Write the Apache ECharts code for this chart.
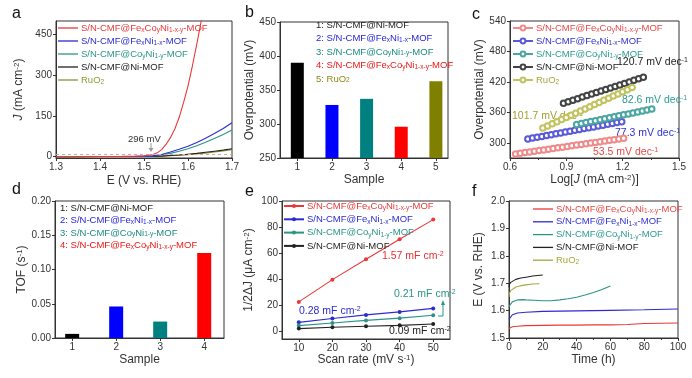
<!DOCTYPE html>
<html><head><meta charset="utf-8">
<script src="https://cdn.jsdelivr.net/npm/echarts@6/dist/echarts.min.js"></script>
<style>html,body{margin:0;padding:0;background:#fff}#c{width:692px;height:378px}</style>
</head><body><div id="c"></div>
<script>
// ---------------- DATA ----------------
// (a) LSV curves
const lsvE = [1.30,1.35,1.40,1.45,1.48,1.50,1.52,1.54,1.56,1.58,1.60,1.62,1.64,1.66,1.68,1.70];
const lsvJ_FeNi = [0.3,0.4,0.5,0.7,0.9,1.2,3,8,17,27,38,52,68,85,104,125];
const lsvJ_CoNi = [0.2,0.3,0.4,0.6,0.8,1.0,2.5,6,12,20,29,40,53,67,82,98];
const lsvJ_Ni   = [0.1,0.2,0.3,0.4,0.5,0.6,1.0,2,4,6,9,12,16,20,24,29];
const lsvJ_RuO2 = [0.1,0.2,0.3,0.4,0.5,0.6,1.0,2,3.5,5,7.5,10,13,17,21,26];
const lsvE_FeCoNi = [1.30,1.35,1.40,1.45,1.48,1.50,1.51,1.52,1.53,1.54,1.55,1.56,1.57,1.58,1.59,1.60,1.61,1.62,1.63,1.636];
const lsvJ_FeCoNi = [0.5,0.6,0.8,1.0,1.5,3,5,8,14,26,45,70,102,145,200,260,335,415,500,550];

// (b) overpotential
const bSample = [1,2,3,4,5];
const bOverpot = [390,328,337,296,363];

// (c) Tafel
const tafX_FeCoNi = [0.630,0.655,0.680,0.705,0.730,0.755,0.780,0.805,0.830,0.855,0.880,0.905,0.930,0.955,0.980,1.005,1.030,1.055,1.080,1.105,1.130,1.155,1.180,1.205];
const tafY_FeCoNi = [278.0,279.3,280.7,282.0,283.4,284.7,286.0,287.4,288.7,290.0,291.4,292.7,294.1,295.4,296.7,298.1,299.4,300.7,302.1,303.4,304.8,306.1,307.4,308.8];
const tafX_FeNi = [0.695,0.720,0.745,0.770,0.795,0.820,0.845,0.870,0.895,0.920,0.945,0.970,0.995,1.020,1.045,1.070,1.095,1.120,1.145,1.170,1.195];
const tafY_FeNi = [307.5,309.2,310.9,312.6,314.3,316.0,317.7,319.4,321.1,322.8,324.5,326.2,327.9,329.6,331.3,333.0,334.7,336.4,338.1,339.8,341.5];
const tafX_CoNi = [0.955,0.980,1.005,1.030,1.055,1.080,1.105,1.130,1.155,1.180,1.205,1.230,1.255,1.280,1.305,1.330,1.355];
const tafY_CoNi = [336.0,337.9,339.8,341.7,343.6,345.5,347.4,349.3,351.2,353.1,355.0,356.9,358.8,360.7,362.6,364.5,366.4];
const tafX_Ni = [0.885,0.910,0.935,0.960,0.985,1.010,1.035,1.060,1.085,1.110,1.135,1.160,1.185,1.210,1.235,1.260,1.285,1.310];
const tafY_Ni = [378,381,384,387,390,393,396,399,402,405,408,411,414,417,420,423,426,429];
const tafX_RuO2 = [0.775,0.800,0.825,0.850,0.875,0.900,0.925,0.950,0.975,1.000,1.025,1.050,1.075,1.100,1.125,1.150,1.175,1.200,1.225,1.250];
const tafY_RuO2 = [329.0,333.2,337.4,341.6,345.8,350.0,354.2,358.4,362.6,366.8,371.0,375.2,379.4,383.6,387.8,392.0,396.2,400.4,404.6,408.8];

// (d) TOF
const dSample = [1,2,3,4];
const dTOF = [0.006,0.046,0.024,0.124];

// (e) Cdl
const eScan = [10,20,30,40,50];
const eJ_FeCoNi = [22.5,39.6,55.2,70.6,85.7];
const eJ_FeNi = [6.8,9.8,12.5,14.8,17.5];
const eJ_CoNi = [4.3,6.3,8.3,10.0,12.3];
const eJ_Ni = [2.0,3.0,3.8,4.5,5.5];

// (f) stability
const fT_FeCoNi = [0,0.5,2,5,10,20,30,40,50,60,70,75,80,90,100];
const fE_FeCoNi = [1.535,1.538,1.541,1.543,1.545,1.546,1.547,1.547,1.548,1.548,1.549,1.551,1.553,1.554,1.555];
const fT_FeNi = [0,0.5,2,5,10,20,30,40,60,80,100];
const fE_FeNi = [1.568,1.575,1.585,1.591,1.594,1.597,1.598,1.599,1.601,1.603,1.606];
const fT_CoNi = [0,0.5,1,2,3,5,8,10,15,20,25,30,35,40,45,50,55,60];
const fE_CoNi = [1.612,1.620,1.626,1.632,1.636,1.639,1.640,1.639,1.638,1.636,1.636,1.639,1.643,1.649,1.657,1.666,1.677,1.690];
const fT_Ni = [0,0.2,1,2,4,7,10,14,17,20];
const fE_Ni = [1.685,1.695,1.703,1.708,1.714,1.719,1.722,1.726,1.728,1.730];
const fT_RuO2 = [0,0.2,1,2,4,7,10,14,18];
const fE_RuO2 = [1.650,1.662,1.673,1.680,1.686,1.691,1.694,1.697,1.698];

// tick labels
const aYTicks = [0,150,300,450];
const cYTicks = [300,360,420,480,540];
const eXTicks = [10,20,30,40,50];
const eYTicks = [0,20,40,60,80,100];

// ---------------- STYLE ----------------
const FONT = '"Liberation Sans", Arial, Helvetica, sans-serif';
const TXT = '#333';
const RICH = {
  s: {fontSize: 6.5, lineHeight: 7, verticalAlign: 'bottom', fontFamily: FONT},
  p: {fontSize: 6.5, lineHeight: 7, verticalAlign: 'top', fontFamily: FONT},
  i: {fontStyle: 'italic', fontFamily: FONT}
};
const dispName = {
  FeCoNi: 'S/N-CMF@Fe{s|x}Co{s|y}Ni{s|1-x-y}-MOF',
  FeNi: 'S/N-CMF@Fe{s|x}Ni{s|1-x}-MOF',
  CoNi: 'S/N-CMF@Co{s|y}Ni{s|1-y}-MOF',
  Ni: 'S/N-CMF@Ni-MOF',
  RuO2: 'RuO{s|2}'
};
const C = {
  FeCoNi: '#e8383a', FeNi: '#2b2bd0', CoNi: '#2a9488', Ni: '#222222', RuO2: '#8c9a2e'
};
const CT = { // tafel circle colors
  FeCoNi: '#ef8a8a', FeNi: '#5a5ad8', CoNi: '#4aa6a0', Ni: '#444444', RuO2: '#c2c25e'
};

function pairs(xs, ys) { return xs.map((x, i) => [x, ys[i]]); }

function ax(o) {
  const base = {
    type: 'value', nameLocation: 'middle',
    axisLine: {show: true, onZero: false, lineStyle: {color: TXT, width: 1}},
    axisTick: {show: true, length: 3, inside: false, lineStyle: {color: TXT}},
    splitLine: {show: false},
    axisLabel: {color: TXT, fontSize: 10, fontFamily: FONT, margin: 4},
    nameTextStyle: {color: TXT, fontSize: 12, fontFamily: FONT, rich: {
      s: {fontSize: 8, lineHeight: 8, verticalAlign: 'bottom', fontFamily: FONT},
      p: {fontSize: 8, lineHeight: 8, verticalAlign: 'top', fontFamily: FONT},
      i: {fontStyle: 'italic', fontSize: 12, fontFamily: FONT}
    }}
  };
  return Object.assign({}, base, o, {
    axisLabel: Object.assign({}, base.axisLabel, o.axisLabel || {}),
    axisTick: Object.assign({}, base.axisTick, o.axisTick || {})
  });
}
const minor = {show: true, splitNumber: 2, length: 2, lineStyle: {color: TXT}};

const grids = [
  {left: 56, top: 21, width: 176, height: 137},
  {left: 280, top: 22, width: 168, height: 136},
  {left: 510, top: 21, width: 169, height: 137},
  {left: 55, top: 201, width: 169, height: 137},
  {left: 282, top: 201, width: 168, height: 138},
  {left: 509, top: 201, width: 169, height: 137}
].map(g => Object.assign({show: true, borderColor: TXT, borderWidth: 1, backgroundColor: 'transparent'}, g));

const xAxes = [
  ax({gridIndex: 0, min: 1.3, max: 1.7, interval: 0.1, name: 'E (V vs. RHE)', nameGap: 17,
      axisLabel: {formatter: v => v.toFixed(1)}}),
  ax({gridIndex: 1, min: 0.5, max: 5.35, name: 'Sample', nameGap: 16,
      axisLabel: {customValues: bSample}, axisTick: {customValues: bSample}}),
  ax({gridIndex: 2, min: 0.6, max: 1.5, interval: 0.3, name: 'Log[{i|J} (mA cm{p|-2})]', nameGap: 16,
      axisLabel: {formatter: v => v.toFixed(1)}, minorTick: minor}),
  ax({gridIndex: 3, min: 0.61, max: 4.45, name: 'Sample', nameGap: 16,
      axisLabel: {customValues: dSample}, axisTick: {customValues: dSample}}),
  ax({gridIndex: 4, min: 5, max: 55, name: 'Scan rate (mV s{p|-1})', nameGap: 15,
      axisLabel: {customValues: eXTicks}, axisTick: {customValues: eXTicks}}),
  ax({gridIndex: 5, min: 0, max: 100, interval: 20, name: 'Time (h)', nameGap: 16, minorTick: minor})
];
const yAxes = [
  ax({gridIndex: 0, min: -5, max: 500, name: '{i|J} (mA cm{p|-2})', nameGap: 31,
      axisLabel: {customValues: aYTicks}, axisTick: {customValues: aYTicks}}),
  ax({gridIndex: 1, min: 250, max: 450, interval: 50, name: 'Overpotential (mV)', nameGap: 19}),
  ax({gridIndex: 2, min: 270, max: 540, name: 'Overpotential (mV)', nameGap: 23,
      axisLabel: {customValues: cYTicks}, axisTick: {customValues: cYTicks}}),
  ax({gridIndex: 3, min: 0, max: 0.2, interval: 0.05, name: 'TOF (s{p|-1})', nameGap: 25,
      axisLabel: {formatter: v => v.toFixed(2)}}),
  ax({gridIndex: 4, min: -6, max: 100, name: '1/2ΔJ (μA cm{p|-2})', nameGap: 27,
      axisLabel: {customValues: eYTicks}, axisTick: {customValues: eYTicks}}),
  ax({gridIndex: 5, min: 1.5, max: 2.0, interval: 0.1, name: 'E (V vs. RHE)', nameGap: 24,
      axisLabel: {formatter: v => v.toFixed(1)}})
];

function lineS(name, gi, data, color, extra) {
  return Object.assign({
    name: name, type: 'line', xAxisIndex: gi, yAxisIndex: gi, data: data,
    symbol: 'none', smooth: false, clip: true, animation: false,
    lineStyle: {color: color, width: 1.1}, itemStyle: {color: color}
  }, extra || {});
}

const series = [
  // (a)
  lineS('a_RuO2', 0, pairs(lsvE, lsvJ_RuO2), C.RuO2),
  lineS('a_Ni', 0, pairs(lsvE, lsvJ_Ni), C.Ni),
  lineS('a_CoNi', 0, pairs(lsvE, lsvJ_CoNi), C.CoNi),
  lineS('a_FeNi', 0, pairs(lsvE, lsvJ_FeNi), C.FeNi),
  lineS('a_FeCoNi', 0, pairs(lsvE_FeCoNi, lsvJ_FeCoNi), C.FeCoNi, {
    markLine: {silent: true, symbol: 'none', label: {show: false}, animation: false,
      lineStyle: {type: [3, 3], color: '#e0a0a0', width: 1}, data: [{yAxis: 10}]}
  }),
  // (b)
  {name: 'b_bars', type: 'bar', xAxisIndex: 1, yAxisIndex: 1, barWidth: 13, clip: true, animation: false,
   data: bSample.map((s, i) => ({value: [s, bOverpot[i]],
     itemStyle: {color: ['#000000','#0000ff','#008080','#ff0000','#808000'][i]}}))},
  // (c)
  ...['FeCoNi','FeNi','CoNi','Ni','RuO2'].map(k => {
    const X = {FeCoNi: tafX_FeCoNi, FeNi: tafX_FeNi, CoNi: tafX_CoNi, Ni: tafX_Ni, RuO2: tafX_RuO2}[k];
    const Y = {FeCoNi: tafY_FeCoNi, FeNi: tafY_FeNi, CoNi: tafY_CoNi, Ni: tafY_Ni, RuO2: tafY_RuO2}[k];
    return lineS('c_' + k, 2, pairs(X, Y), CT[k], {
      symbol: 'emptyCircle', symbolSize: 5.5, showSymbol: true,
      itemStyle: {color: CT[k], borderWidth: 1}, lineStyle: {color: CT[k], width: 1}
    });
  }),
  // (d)
  {name: 'd_bars', type: 'bar', xAxisIndex: 3, yAxisIndex: 3, barWidth: 14, clip: true, animation: false,
   data: dSample.map((s, i) => ({value: [s, dTOF[i]],
     itemStyle: {color: ['#000000','#0000ff','#008080','#ff0000'][i]}}))},
  // (e)
  ...[['FeCoNi', eJ_FeCoNi], ['FeNi', eJ_FeNi], ['CoNi', eJ_CoNi], ['Ni', eJ_Ni]].map(([k, Y]) =>
    lineS('e_' + k, 4, pairs(eScan, Y), C[k], {symbol: 'circle', symbolSize: 4, showSymbol: true})),
  // (f)
  lineS('f_RuO2', 5, pairs(fT_RuO2, fE_RuO2), '#a4a840'),
  lineS('f_Ni', 5, pairs(fT_Ni, fE_Ni), C.Ni),
  lineS('f_CoNi', 5, pairs(fT_CoNi, fE_CoNi), C.CoNi),
  lineS('f_FeNi', 5, pairs(fT_FeNi, fE_FeNi), C.FeNi),
  lineS('f_FeCoNi', 5, pairs(fT_FeCoNi, fE_FeCoNi), C.FeCoNi)
];

function mkLegend(prefix, keys, left, top, colors, extra) {
  return Object.assign({
    orient: 'vertical', left: left, top: top, padding: 0,
    itemWidth: 20, itemHeight: 10, itemGap: 1, selectedMode: false,
    data: keys.map(k => ({name: prefix + k, textStyle: {color: (colors || C)[k]}})),
    formatter: n => dispName[n.split('_')[1]],
    textStyle: {fontFamily: FONT, fontSize: 9.5, lineHeight: 12, padding: [0, 0, 0, -2], rich: RICH}
  }, extra || {});
}
const LK = ['FeCoNi','FeNi','CoNi','Ni','RuO2'];
const CL = {FeCoNi: '#e84848', FeNi: '#3030d0', CoNi: '#2a9a90', Ni: '#222', RuO2: '#a4a836'};
const legends = [
  mkLegend('a_', LK, 58, 22, null, {icon: 'rect', itemHeight: 1.3, itemGap: 1}),
  mkLegend('c_', LK, 512, 22, CL, {itemHeight: 6, itemGap: 1}),
  mkLegend('e_', ['FeCoNi','FeNi','CoNi','Ni'], 283, 200, null, {itemHeight: 5, itemGap: 1.3}),
  mkLegend('f_', LK, 533, 203, CL, {icon: 'rect', itemHeight: 1.3, itemGap: 0.8})
];

// ---------------- GRAPHIC TEXT ----------------
function txt(x, y, text, color, size, extra) {
  return Object.assign({type: 'text', x: x, y: y, silent: true,
    style: {text: text, fill: color, font: (size || 9.5) + 'px ' + FONT,
      verticalAlign: 'middle', align: 'left', rich: RICH}}, extra || {});
}
const richAnn = {
  s: {fontSize: 7, lineHeight: 7, verticalAlign: 'bottom', fontFamily: FONT},
  p: {fontSize: 7, lineHeight: 7, verticalAlign: 'top', fontFamily: FONT}
};
function ann(x, y, text, color) {
  return {type: 'text', x: x, y: y, silent: true,
    style: {text: text, fill: color, font: '10.5px ' + FONT, verticalAlign: 'middle', align: 'left', rich: richAnn}};
}
const graphics = [
  txt(12, 14, 'a', '#111', 16), txt(245, 13, 'b', '#111', 16), txt(472, 15, 'c', '#111', 16),
  txt(12, 190, 'd', '#111', 16), txt(245, 192, 'e', '#111', 16), txt(472, 192, 'f', '#111', 16),
  // panel b list
  txt(316, 25, '1: ' + dispName.Ni, '#222'),
  txt(316, 38.5, '2: ' + dispName.FeNi, '#1f1fd8'),
  txt(316, 52, '3: ' + dispName.CoNi, '#1a8a80'),
  txt(316, 65.5, '4: ' + dispName.FeCoNi, '#f01414'),
  txt(316, 79, '5: ' + dispName.RuO2, '#8a8a10'),
  // panel d list
  txt(60, 208, '1: ' + dispName.Ni, '#222'),
  txt(60, 220.5, '2: ' + dispName.FeNi, '#1f1fd8'),
  txt(60, 233, '3: ' + dispName.CoNi, '#1a8a80'),
  txt(60, 245.5, '4: ' + dispName.FeCoNi, '#f01414'),
  // panel a annotation
  txt(128, 139, '296 mV', '#333', 9.5),
  {type: 'line', silent: true, shape: {x1: 151, y1: 143, x2: 151, y2: 149}, style: {stroke: '#999', lineWidth: 1}},
  {type: 'polygon', silent: true, shape: {points: [[148.5, 148], [153.5, 148], [151, 152]]}, style: {fill: '#999'}},
  // panel c annotations
  ann(617, 62, '120.7 mV dec{p|-1}', '#222'),
  ann(622, 100, '82.6 mV dec{p|-1}', '#2a9a90'),
  ann(512, 116, '101.7 mV dec{p|-1}', '#a0a030'),
  ann(615, 133, '77.3 mV dec{p|-1}', '#3030d0'),
  ann(593, 152, '53.5 mV dec{p|-1}', '#e84848'),
  // panel e annotations
  ann(382, 256, '1.57 mF cm{p|-2}', '#e83030'),
  ann(299, 311, '0.28 mF cm{p|-2}', '#2b2bd0'),
  ann(394, 294, '0.21 mF cm{p|-2}', '#2a9488'),
  ann(389, 331, '0.09 mF cm{p|-2}', '#222'),
  {type: 'polyline', silent: true, shape: {points: [[438, 316], [443, 316], [443, 304]]}, style: {stroke: '#2a9488', lineWidth: 1, fill: null}},
  {type: 'polygon', silent: true, shape: {points: [[441, 305], [445, 305], [443, 300]]}, style: {fill: '#2a9488'}}
];

const chart = echarts.init(document.getElementById('c'), null, {renderer: 'canvas'});
chart.setOption({
  animation: false,
  backgroundColor: '#fff',
  textStyle: {fontFamily: FONT},
  grid: grids, xAxis: xAxes, yAxis: yAxes,
  legend: legends, series: series, graphic: graphics
});
</script></body></html>
